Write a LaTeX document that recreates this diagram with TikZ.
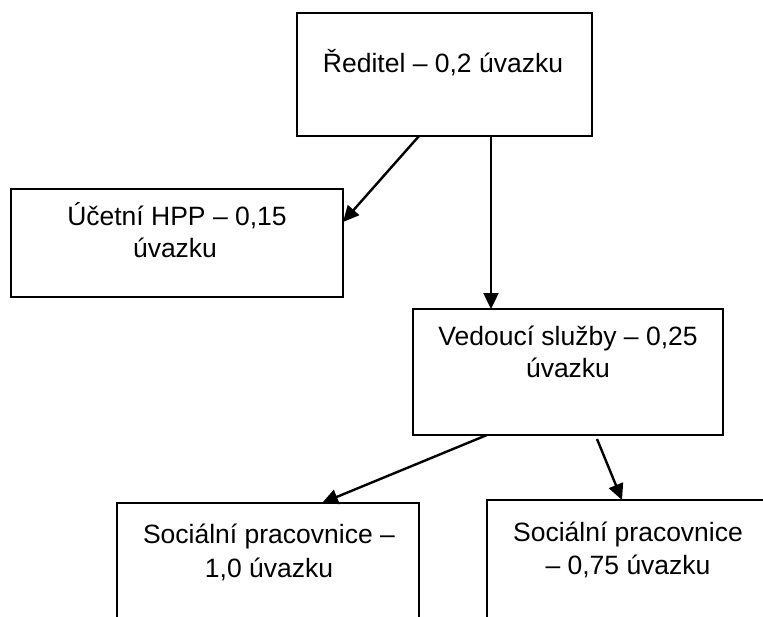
\documentclass[tikz,border=0pt]{standalone}
\usepackage{fontspec}
\setmainfont{Liberation Sans}
\usetikzlibrary{arrows.meta,calc}

\tikzset{
  box/.style={draw=black, line width=2.4pt, fill=white, anchor=north west,
              inner sep=0pt, outer sep=0pt},
  lbl/.style={anchor=base, inner sep=0pt, font=\fontsize{26.5}{31}\selectfont},
  arr/.style={line width=2.4pt, -{Triangle[length=16pt,width=15pt]}}
}

\begin{document}
\begin{tikzpicture}[x=1pt, y=-1pt]
  \useasboundingbox (0,0) rectangle (763,616);
  \clip (0,0) rectangle (763,616);

  % boxes of the organisation chart
  \node[box, minimum width=295pt, minimum height=123pt] (dir) at (297,13) {};
  \node[box, minimum width=332pt, minimum height=108pt] (acc) at (11,189) {};
  \node[box, minimum width=310pt, minimum height=126pt] (head) at (413,309) {};
  \node[box, minimum width=302pt, minimum height=160pt] (soc1) at (117,503) {};
  \node[box, minimum width=282pt, minimum height=160pt] (soc2) at (487,500) {};

  % texts
  \node[lbl] (tdir) at (443,72) {Ředitel – 0,2 úvazku};
  \node[lbl] (tacc1) at (177,225) {Účetní HPP – 0,15};
  \node[lbl] (tacc2) at (175,257) {úvazku};
  \node[lbl] (thead1) at (568,345) {Vedoucí služby – 0,25};
  \node[lbl] (thead2) at (568,377) {úvazku};
  \node[lbl] (tsoc1a) at (269,543) {Sociální pracovnice –};
  \node[lbl] (tsoc1b) at (269,577) {1,0 úvazku};
  \node[lbl] (tsoc2a) at (628,541) {Sociální pracovnice};
  \node[lbl] (tsoc2b) at (628,574) {– 0,75 úvazku};

  % connectors
  \draw[arr] ($(dir.south west)+(122,0)$) -- ($(acc.east)+(0,-21)$);
  \draw[arr] ($(dir.south west)+(194,0)$) -- ($(head.north west)+(78,0)$);
  \draw[arr] ($(head.south west)+(74,0)$) -- ($(soc1.north west)+(205,0)$);
  \draw[arr] ($(head.south west)+(184,4)$) -- ($(soc2.north west)+(135,0)$);
\end{tikzpicture}
\end{document}
